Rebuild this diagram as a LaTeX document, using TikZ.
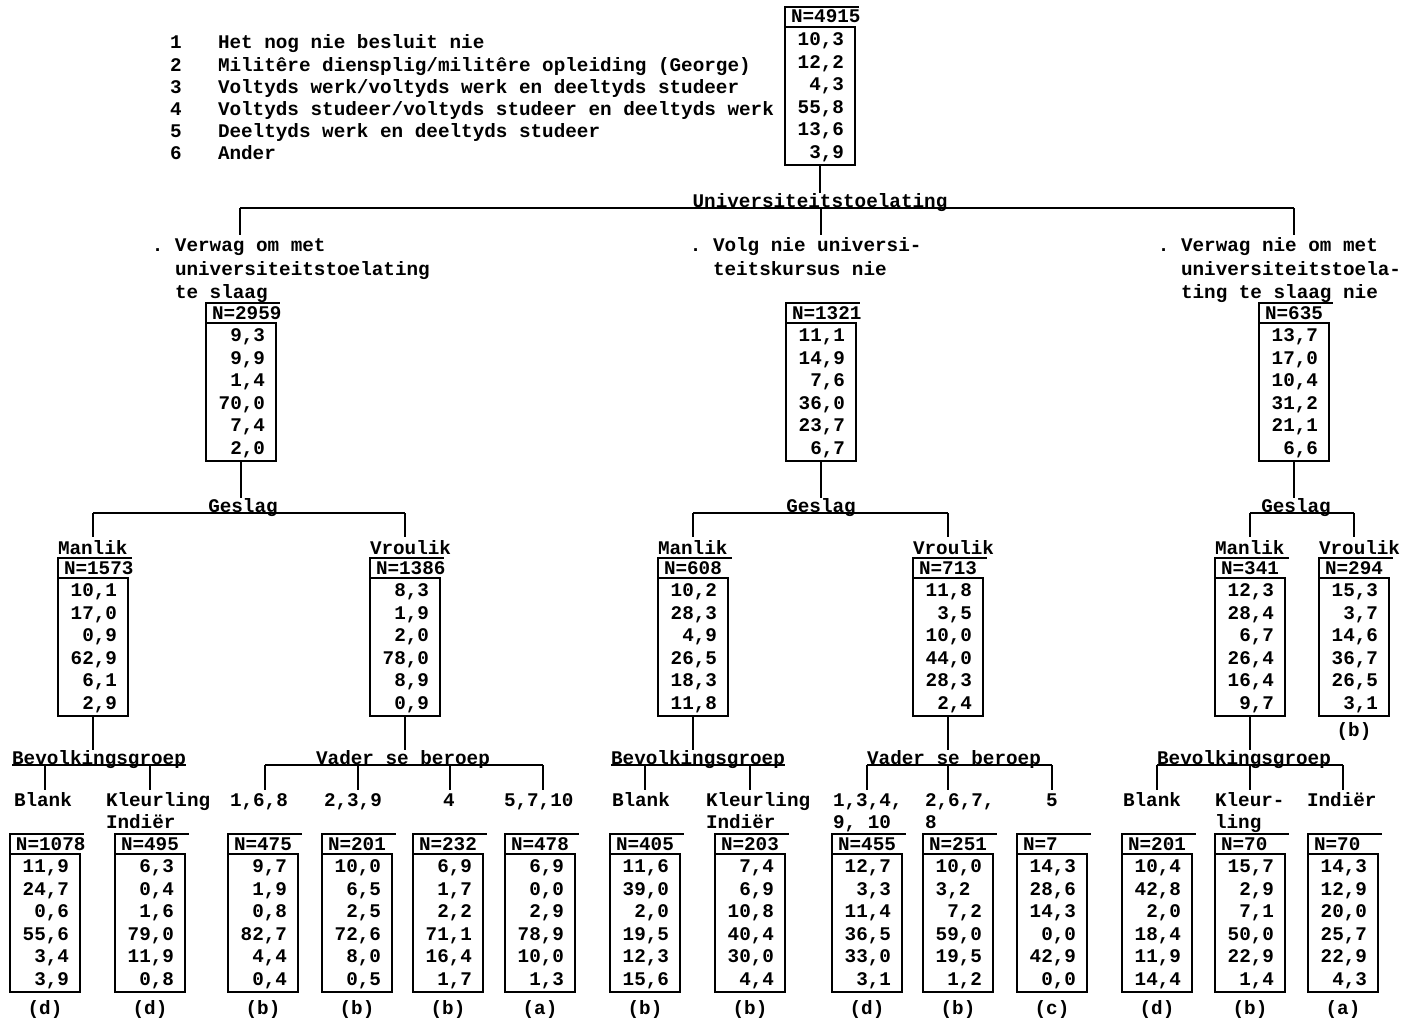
\documentclass[tikz,border=0pt]{standalone}
\usepackage{fontspec}
\setmonofont{Liberation Mono}
\newcommand{\tw}{\ttfamily\bfseries\fontsize{19.3}{22.6}\selectfont}
\tikzset{
  every node/.style={font=\tw, inner sep=0pt, outer sep=0pt},
  ln/.style={line width=1.4pt},
  hdr/.style={anchor=north west, minimum width=70pt, minimum height=20pt},
  vbox/.style={draw, line width=1.4pt, anchor=north west, minimum width=70pt, minimum height=138pt},
  txt/.style={anchor=base west},
  val/.style={anchor=base east},
  splitlab/.style={anchor=base},
  tag/.style={anchor=base},
}
% data box: name, left x, top y, header, values
\newcommand{\dbox}[5]{%
  \node[hdr] (#1-h) at (#2,#3) {};
  \draw[ln] (#1-h.south east) -- (#1-h.south west) -- (#1-h.north west) -- ([xshift=4pt]#1-h.north east);
  \node[txt] (#1-n) at ({#2+6},{#3+16}) {#4};
  \node[vbox] (#1) at ({#2},{#3+20}) {};
  \foreach \v [count=\i] in {#5} {\node[val] (#1-v\i) at ({#2+59},{#3+38.5+22.6*(\i-1)}) {\v};}
}
% split bar: label name, bar y, drop end y, list of drop x
\newcommand{\splitbar}[4]{%
  \foreach \x [count=\i] in {#4} {
    \coordinate (#1-b\i) at (\x,#2);
    \coordinate (#1-d\i) at (\x,#3);
    \draw[ln] (#1-b\i) -- (#1-d\i);
    \draw[ln] (#1-b1) -- (#1-b\i);
  }
  \draw[ln] (#1.west |- #1-b1) -- (#1.east |- #1-b1);
}
\begin{document}
\begin{tikzpicture}[x=1pt,y=-1pt]
\path[use as bounding box] (0,0) rectangle (1416,1022);

% legend
\foreach \t [count=\i] in {Het nog nie besluit nie, Militêre diensplig/militêre opleiding (George), Voltyds werk/voltyds werk en deeltyds studeer, Voltyds studeer/voltyds studeer en deeltyds werk, Deeltyds werk en deeltyds studeer, Ander} {
  \node[txt] (legn\i) at (170,{49+22.2*(\i-1)}) {\i};
  \node[txt] (legt\i) at (218,{49+22.2*(\i-1)}) {\t};
}

% top box
\dbox{top}{785}{7}{N=4915}{{10,3},{12,2},{4,3},{55,8},{13,6},{3,9}}
\node[splitlab] (univ) at (820,207) {Universiteitstoelating};
\draw[ln] (top.south) -- (top.south |- univ.north);
\splitbar{univ}{208}{235}{240,821,1294}

% level 1 labels
\node[txt] (labL1) at (175,251) {\llap{.\ }Verwag om met};
\node[txt] (labL2) at (175,275) {universiteitstoelating};
\node[txt] (labL3) at (175,298) {te slaag};
\node[txt] (labM1) at (713,251) {\llap{.\ }Volg nie universi-};
\node[txt] (labM2) at (713,275) {teitskursus nie};
\node[txt] (labR1) at (1181,251) {\llap{.\ }Verwag nie om met};
\node[txt] (labR2) at (1181,275) {universiteitstoela-};
\node[txt] (labR3) at (1181,298) {ting te slaag nie};

% level 1 boxes
\dbox{L}{206}{303}{N=2959}{{9,3},{9,9},{1,4},{70,0},{7,4},{2,0}}
\dbox{M}{786}{303}{N=1321}{{11,1},{14,9},{7,6},{36,0},{23,7},{6,7}}
\dbox{R}{1259}{303}{N=635}{{13,7},{17,0},{10,4},{31,2},{21,1},{6,6}}

% Geslag splits
\node[splitlab] (gL) at (243,512) {Geslag};
\draw[ln] (L.south) -- (L.south |- gL.north);
\splitbar{gL}{513}{537}{93,405}
\node[splitlab] (gM) at (821,512) {Geslag};
\draw[ln] (M.south) -- (M.south |- gM.north);
\splitbar{gM}{513}{537}{693,948}
\node[splitlab] (gR) at (1296,512) {Geslag};
\draw[ln] (R.south) -- (R.south |- gR.north);
\splitbar{gR}{513}{537}{1250,1354}

% level 2 labels
\node[txt] (labLM) at (58,554) {Manlik};
\node[txt] (labLV) at (370,554) {Vroulik};
\node[txt] (labMM) at (658,554) {Manlik};
\node[txt] (labMV) at (913,554) {Vroulik};
\node[txt] (labRM) at (1215,554) {Manlik};
\node[txt] (labRV) at (1319,554) {Vroulik};

% level 2 boxes
\dbox{LM}{58}{558}{N=1573}{{10,1},{17,0},{0,9},{62,9},{6,1},{2,9}}
\dbox{LV}{370}{558}{N=1386}{{8,3},{1,9},{2,0},{78,0},{8,9},{0,9}}
\dbox{MM}{658}{558}{N=608}{{10,2},{28,3},{4,9},{26,5},{18,3},{11,8}}
\dbox{MV}{913}{558}{N=713}{{11,8},{3,5},{10,0},{44,0},{28,3},{2,4}}
\dbox{RM}{1215}{558}{N=341}{{12,3},{28,4},{6,7},{26,4},{16,4},{9,7}}
\dbox{RV}{1319}{558}{N=294}{{15,3},{3,7},{14,6},{36,7},{26,5},{3,1}}
\node[tag] (RV-tag) at (1354,736) {(b)};

% level 3 splits
\node[splitlab] (bL) at (99,764) {Bevolkingsgroep};
\draw[ln] (LM.south) -- (LM.south |- bL.north);
\splitbar{bL}{765}{790}{45,150}
\node[splitlab] (vL) at (403,764) {Vader se beroep};
\draw[ln] (LV.south) -- (LV.south |- vL.north);
\splitbar{vL}{765}{790}{265,358,450,543}
\node[splitlab] (bM) at (698,764) {Bevolkingsgroep};
\draw[ln] (MM.south) -- (MM.south |- bM.north);
\splitbar{bM}{765}{790}{645,750}
\node[splitlab] (vM) at (954,764) {Vader se beroep};
\draw[ln] (MV.south) -- (MV.south |- vM.north);
\splitbar{vM}{765}{790}{867,948,1052}
\node[splitlab] (bR) at (1244,764) {Bevolkingsgroep};
\draw[ln] (RM.south) -- (RM.south |- bR.north);
\splitbar{bR}{765}{790}{1157,1250,1343}

% level 3 labels
\node[txt] (l3a1) at (14,806) {Blank};
\node[txt] (l3a2) at (106,806) {Kleurling};
\node[txt] (l3a2b) at (106,828) {Indiër};
\node[txt] (l3b1) at (230,806) {1,6,8};
\node[txt] (l3b2) at (324,806) {2,3,9};
\node[txt] (l3b3) at (443,806) {4};
\node[txt] (l3b4) at (504,806) {5,7,10};
\node[txt] (l3c1) at (612,806) {Blank};
\node[txt] (l3c2) at (706,806) {Kleurling};
\node[txt] (l3c2b) at (706,828) {Indiër};
\node[txt] (l3d1) at (833,806) {1,3,4,};
\node[txt] (l3d1b) at (833,828) {9, 10};
\node[txt] (l3d2) at (925,806) {2,6,7,};
\node[txt] (l3d2b) at (925,828) {8};
\node[txt] (l3d3) at (1046,806) {5};
\node[txt] (l3e1) at (1123,806) {Blank};
\node[txt] (l3e2) at (1215,806) {Kleur-};
\node[txt] (l3e2b) at (1215,828) {ling};
\node[txt] (l3e3) at (1307,806) {Indiër};

% level 3 boxes
\dbox{a1}{10}{834}{N=1078}{{11,9},{24,7},{0,6},{55,6},{3,4},{3,9}}
\dbox{a2}{115}{834}{N=495}{{6,3},{0,4},{1,6},{79,0},{11,9},{0,8}}
\dbox{b1}{228}{834}{N=475}{{9,7},{1,9},{0,8},{82,7},{4,4},{0,4}}
\dbox{b2}{322}{834}{N=201}{{10,0},{6,5},{2,5},{72,6},{8,0},{0,5}}
\dbox{b3}{413}{834}{N=232}{{6,9},{1,7},{2,2},{71,1},{16,4},{1,7}}
\dbox{b4}{505}{834}{N=478}{{6,9},{0,0},{2,9},{78,9},{10,0},{1,3}}
\dbox{c1}{610}{834}{N=405}{{11,6},{39,0},{2,0},{19,5},{12,3},{15,6}}
\dbox{c2}{715}{834}{N=203}{{7,4},{6,9},{10,8},{40,4},{30,0},{4,4}}
\dbox{d1}{832}{834}{N=455}{{12,7},{3,3},{11,4},{36,5},{33,0},{3,1}}
\dbox{d2}{923}{834}{N=251}{{10,0},{3,2\phantom{0}},{7,2},{59,0},{19,5},{1,2}}
\dbox{d3}{1017}{834}{N=7}{{14,3},{28,6},{14,3},{0,0},{42,9},{0,0}}
\dbox{e1}{1122}{834}{N=201}{{10,4},{42,8},{2,0},{18,4},{11,9},{14,4}}
\dbox{e2}{1215}{834}{N=70}{{15,7},{2,9},{7,1},{50,0},{22,9},{1,4}}
\dbox{e3}{1308}{834}{N=70}{{14,3},{12,9},{20,0},{25,7},{22,9},{4,3}}

% tags
\foreach \n/\t in {a1/d,a2/d,b1/b,b2/b,b3/b,b4/a,c1/b,c2/b,d1/d,d2/b,d3/c,e1/d,e2/b,e3/a} {
  \node[tag] (\n-tag) at ([yshift=-22pt]\n.south) {(\t)};
}
\end{tikzpicture}
\end{document}
